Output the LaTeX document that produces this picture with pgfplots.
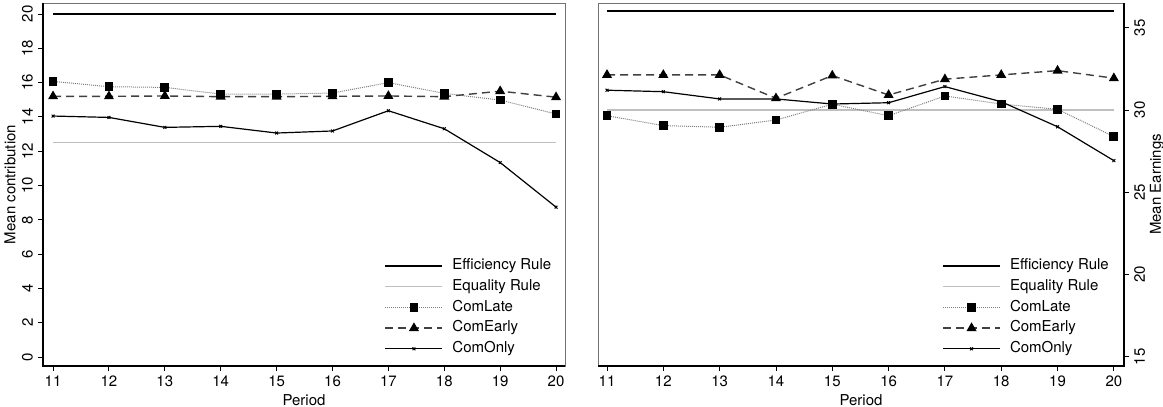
\documentclass[border=0pt]{standalone}
\usepackage{fontspec}
\setmainfont{TeX Gyre Heros}
\usepackage{pgfplots}
\pgfplotsset{compat=1.18}
\pgfplotstableread{
p   late  early only
11  16.07 15.20 14.05
12  15.76 15.20 13.97
13  15.72 15.22 13.39
14  15.33 15.18 13.45
15  15.33 15.18 13.06
16  15.39 15.20 13.18
17  16.00 15.22 14.36
18  15.37 15.18 13.31
19  14.98 15.50 11.34
20  14.17 15.15 8.74
}\contrib
\pgfplotstableread{
p   late  early only
11  29.65 32.13 31.20
12  29.05 32.13 31.11
13  28.95 32.13 30.67
14  29.39 30.71 30.67
15  30.35 32.09 30.36
16  29.65 30.91 30.44
17  30.85 31.87 31.42
18  30.36 32.13 30.50
19  30.04 32.39 28.98
20  28.38 31.93 26.92
}\earn
\definecolor{eqgray}{gray}{0.75}
\definecolor{lategray}{gray}{0.5}
\definecolor{earlygray}{gray}{0.25}
\definecolor{framegray}{gray}{0.45}
\pgfplotsset{
  base/.style={
    scale only axis, height=363pt,
    enlargelimits=false,
    xtick={11,...,20},
    xtick pos=left,
    tick align=outside,
    major tick length=5pt,
    tick style={black, line width=0.9pt},
    axis line style={framegray, line width=0.9pt},
    /pgf/number format/assume math mode=true,
    xlabel={Period},
    xlabel style={at={(axis description cs:0.5,-0.094)}, anchor=center},
    legend cell align=left,
    legend image code/.code={\draw[mark repeat=2,mark phase=2,##1] plot coordinates {(0pt,0pt) (28.5pt,0pt) (57pt,0pt)};},
    legend style={draw=none, fill=none, anchor=north west, row sep=0pt,
      /tikz/every odd column/.append style={column sep=6pt},
      nodes={inner sep=3pt, text height=11pt, text depth=3.7pt}},
    clip=false,
  },
  eff/.style={black, line width=2pt, no marks},
  equ/.style={eqgray, line width=1.2pt, no marks},
  late/.style={lategray, line width=1pt, dash pattern=on 1pt off 1pt, mark=square*, mark size=3.9pt, mark options={solid, fill=black, draw=black}},
  early/.style={earlygray, line width=1.4pt, dash pattern=on 8pt off 5pt, mark=triangle*, mark size=4.4pt, mark options={solid, fill=black, draw=black}},
  only/.style={black, line width=1.2pt, mark=x, mark size=2pt, mark options={solid, black, line width=1pt}},
}
\begin{document}
\fontsize{15}{17}\selectfont
\begin{tikzpicture}[x=1pt,y=1pt]
\path[use as bounding box] (0,0) rectangle (1163,407);
\begin{axis}[base, at={(43pt,41pt)}, anchor=south west, width=522pt,
  xmin=10.82, xmax=20.16, ymin=-0.52, ymax=20.64,
  ytick={0,2,...,20}, ytick pos=left,
  yticklabel style={rotate=90, anchor=south},
  ylabel={Mean contribution},
  ylabel style={at={(axis description cs:-0.063,0.5)}, anchor=center, rotate=0},
  legend style={at={(axis description cs:0.648,0.31)}},
]
\addplot[eff] coordinates {(11,20) (20,20)};
\addlegendentry{Efficiency Rule}
\addplot[equ] coordinates {(11,12.5) (20,12.5)};
\addlegendentry{Equality Rule}
\addplot[late] table[x=p,y=late] {\contrib};
\addlegendentry{ComLate}
\addplot[early] table[x=p,y=early] {\contrib};
\addlegendentry{ComEarly}
\addplot[only] table[x=p,y=only] {\contrib};
\addlegendentry{ComOnly}
\draw[black, line width=1.5pt] (rel axis cs:0,1) -- (rel axis cs:0,0) -- (rel axis cs:1,0);
\end{axis}
\begin{axis}[base, at={(598pt,41pt)}, anchor=south west, width=526pt,
  xmin=10.84, xmax=20.18, ymin=14.44, ymax=36.5,
  ytick={15,20,...,35}, ytick pos=right, yticklabel pos=right,
  yticklabel style={rotate=90, anchor=north},
  ylabel={Mean Earnings},
  ylabel style={at={(axis description cs:1.063,0.5)}, anchor=center, rotate=0},
  legend style={at={(axis description cs:0.648,0.31)}},
]
\addplot[eff] coordinates {(11,36) (20,36)};
\addlegendentry{Efficiency Rule}
\addplot[equ] coordinates {(11,30) (20,30)};
\addlegendentry{Equality Rule}
\addplot[late] table[x=p,y=late] {\earn};
\addlegendentry{ComLate}
\addplot[early] table[x=p,y=early] {\earn};
\addlegendentry{ComEarly}
\addplot[only] table[x=p,y=only] {\earn};
\addlegendentry{ComOnly}
\draw[black, line width=1.5pt] (rel axis cs:0,0) -- (rel axis cs:1,0) -- (rel axis cs:1,1);
\end{axis}
\end{tikzpicture}
\end{document}
